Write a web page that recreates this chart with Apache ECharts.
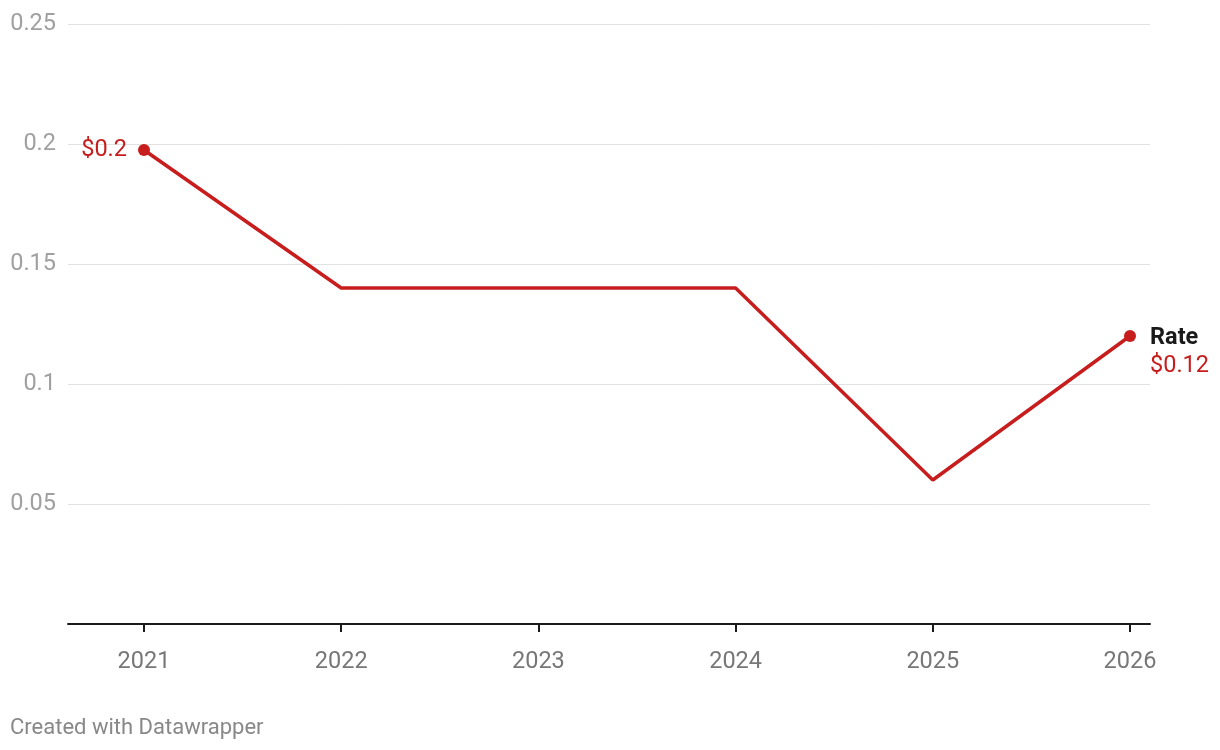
<!DOCTYPE html>
<html>
<head>
<meta charset="utf-8">
<script src="https://cdn.jsdelivr.net/npm/echarts@6/dist/echarts.min.js"></script>
<style>
html,body{margin:0;padding:0;background:#fff;}
#chart{width:1220px;height:750px;}
</style>
</head>
<body>
<div id="chart"></div>
<script>
const years = [2021, 2022, 2023, 2024, 2025, 2026];
const rates = [0.1975, 0.14, 0.14, 0.14, 0.06, 0.12];
const seriesName = 'Rate';
const yTicks = [0, 0.05, 0.1, 0.15, 0.2, 0.25];
const footer = 'Created with Datawrapper';

const RED = '#c71e1d';
const FS = 23.5;
const fmt = v => '$' + Number(v.toFixed(2));

const chart = echarts.init(document.getElementById('chart'), null, {renderer: 'canvas'});
const last = rates.length - 1;
const data = rates.map((v, i) => {
  const item = {value: [years[i], v]};
  if (i === 0) {
    item.symbol = 'circle';
    item.symbolSize = 12;
    item.label = {show: true, position: 'left', distance: 11, formatter: p => fmt(p.value[1]), color: RED, fontSize: FS, fontFamily: 'Roboto', offset: [0, 0]};
  } else if (i === last) {
    item.symbol = 'circle';
    item.symbolSize = 12;
    item.label = {
      show: true, position: 'right', distance: 14,
      formatter: p => '{a|' + seriesName + '}\n{b|' + fmt(p.value[1]) + '}',
      rich: {
        a: {color: '#1a1a1a', fontWeight: 'bold', fontSize: FS, fontFamily: 'Roboto', lineHeight: 28},
        b: {color: RED, fontSize: FS, fontFamily: 'Roboto', lineHeight: 28}
      },
      offset: [0, 16]
    };
  } else {
    item.symbol = 'none';
  }
  return item;
});

const xMin = 2021 - 76 / 197.2;
const xMax = 2026 + 20 / 197.2;

chart.setOption({
  animation: false,
  backgroundColor: '#fff',
  textStyle: {fontFamily: 'Roboto'},
  grid: {left: 68, right: 70, top: 24, bottom: 126, containLabel: false},
  xAxis: {
    type: 'value', min: xMin, max: xMax,
    splitLine: {show: false},
    axisLine: {show: true, onZero: false, lineStyle: {color: '#1a1a1a', width: 2}},
    axisTick: {show: true, customValues: years, length: 8, lineStyle: {color: '#1a1a1a', width: 2}},
    axisLabel: {customValues: years, formatter: v => String(Math.round(v)), color: '#777', fontSize: FS, fontFamily: 'Roboto', margin: 26}
  },
  yAxis: {
    type: 'value', min: yTicks[0], max: yTicks[yTicks.length - 1], interval: 0.05,
    axisLine: {show: false}, axisTick: {show: false},
    splitLine: {show: true, lineStyle: {color: '#e2e2e2', width: 1}},
    axisLabel: {formatter: v => v === 0 ? '' : String(Number(v.toFixed(2))), color: '#a0a0a0', fontSize: FS, fontFamily: 'Roboto', margin: 12}
  },
  graphic: [{
    type: 'text', left: 10, top: 717,
    style: {text: footer, fill: '#888', fontSize: 22, fontFamily: 'Roboto'}
  }],
  series: [{
    type: 'line', name: seriesName, data: data,
    showAllSymbol: true,
    lineStyle: {color: RED, width: 3.5},
    itemStyle: {color: RED},
    z: 5
  }]
});
</script>
</body>
</html>
